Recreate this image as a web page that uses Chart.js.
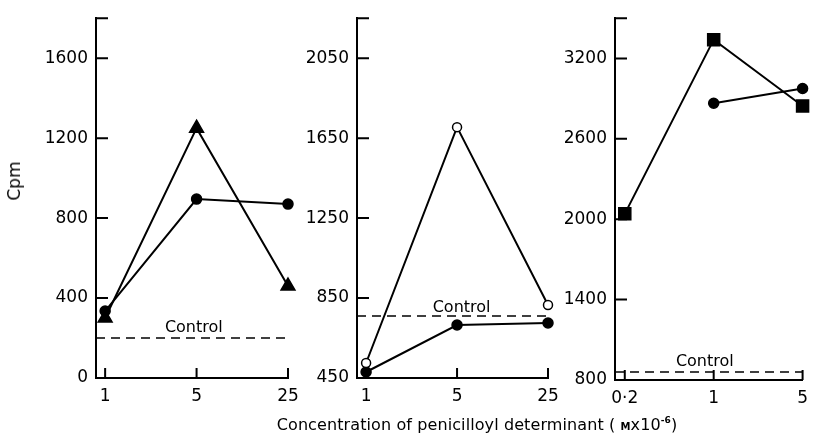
<!DOCTYPE html>
<html>
<head>
<meta charset="utf-8">
<script src="https://cdn.jsdelivr.net/npm/chart.js@4.4.1/dist/chart.umd.min.js"></script>
<style>
  body { margin: 0; background: #fff; }
  #wrap { position: relative; width: 816px; height: 435px; font-family: "DejaVu Sans", sans-serif; color: #000; }
  #wrap canvas { position: absolute; left: 0; top: 0; }
  .lbl { position: absolute; white-space: nowrap; transform: translate(-50%, -50%); }
  #ytitle { left: 14px; top: 181px; font-size: 17px; transform: translate(-50%, -50%) rotate(-90deg); }
  #xtitle { left: 477px; top: 424px; font-size: 16px; letter-spacing: 0.1px; }
  #xtitle .sc { font-size: 10px; font-weight: bold; }
  #xtitle sup { font-size: 9px; font-weight: bold; }
</style>
</head>
<body>
<div id="wrap">
  <canvas id="c1" width="816" height="435"></canvas>
  <canvas id="c2" width="816" height="435"></canvas>
  <canvas id="c3" width="816" height="435"></canvas>
  <div class="lbl" id="ytitle">Cpm</div>
  <div class="lbl" id="xtitle">Concentration of penicilloyl determinant ( <span class="sc">M</span>x10<sup>-6</sup>)</div>
</div>
<script>
// panel 1
const xLabels1 = ['1', '5', '25'];
const triangles1 = [300, 1250, 460];
const circles1 = [335, 895, 870];
const control1 = 200;
const yTicks1 = [0, 400, 800, 1200, 1600];

// panel 2
const xLabels2 = ['1', '5', '25'];
const openCircles2 = [525, 1705, 815];
const circles2 = [480, 715, 725];
const control2 = 760;
const yTicks2 = [450, 850, 1250, 1650, 2050];

// panel 3
const xLabels3 = ['0·2', '1', '5'];
const squares3 = [2040, 3340, 2845];
const circles3 = [null, 2865, 2975];
const control3 = 860;
const yTicks3 = [800, 1400, 2000, 2600, 3200];

const ink = '#000';
const font = { family: '"DejaVu Sans", sans-serif', size: 17 };

// ticks point inward, plus the small stub at the top of the y axis
const inwardTicks = {
  id: 'inwardTicks',
  afterDraw(chart, args, opts) {
    const { ctx, chartArea, scales: { x, y } } = chart;
    ctx.save();
    ctx.strokeStyle = ink;
    ctx.lineWidth = 2;
    ctx.beginPath();
    y.ticks.forEach(t => {
      const py = y.getPixelForValue(t.value);
      ctx.moveTo(chartArea.left, py);
      ctx.lineTo(chartArea.left + 12, py);
    });
    ctx.moveTo(chartArea.left, chartArea.top);
    ctx.lineTo(chartArea.left + 12, chartArea.top);
    x.ticks.forEach(t => {
      const px = x.getPixelForValue(t.value);
      ctx.moveTo(px, chartArea.bottom);
      ctx.lineTo(px, chartArea.bottom - 10);
    });
    ctx.stroke();

    // "Control" caption sitting on the dashed line
    ctx.fillStyle = ink;
    ctx.font = '16px "DejaVu Sans", sans-serif';
    ctx.textAlign = 'center';
    ctx.textBaseline = 'alphabetic';
    ctx.fillText('Control', x.getPixelForValue(opts.labelAt), y.getPixelForValue(opts.control) - opts.lift);
    ctx.restore();
  }
};

function series(values, style, radius, fill) {
  return {
    data: values.map((v, i) => (v == null ? null : { x: i, y: v })).filter(p => p),
    borderColor: ink,
    borderWidth: 2,
    pointStyle: style,
    pointRadius: radius,
    pointBackgroundColor: fill,
    pointBorderColor: ink,
    pointBorderWidth: 1.5,
    clip: false
  };
}

function makePanel(id, p) {
  const controlLine = {
    data: [{ x: p.xMin, y: p.control }, { x: p.xMax, y: p.control }],
    borderColor: ink,
    borderWidth: 1.6,
    borderDash: [9, 6],
    pointRadius: 0,
    clip: false
  };
  new Chart(document.getElementById(id), {
    type: 'line',
    data: { datasets: [controlLine, ...p.datasets] },
    plugins: [inwardTicks],
    options: {
      responsive: false,
      animation: false,
      events: [],
      layout: { padding: { left: p.axisX - 60, right: 816 - p.rightX, top: 15, bottom: 0 } },
      plugins: {
        legend: { display: false },
        tooltip: { enabled: false },
        inwardTicks: { labelAt: p.labelAt, control: p.control, lift: p.lift }
      },
      scales: {
        x: {
          type: 'linear',
          min: p.xMin,
          max: p.xMax,
          afterFit: s => { s.height = 435 - p.bottom; },
          afterBuildTicks: s => { s.ticks = p.labels.map((l, i) => ({ value: i })); },
          ticks: { color: ink, font, padding: 8, maxRotation: 0, callback: v => p.labels[v] },
          grid: { display: true, drawOnChartArea: false, drawTicks: false },
          border: { color: ink, width: 2 }
        },
        y: {
          min: p.yMin,
          max: p.yMax,
          afterFit: s => { s.width = 60; },
          afterBuildTicks: s => { s.ticks = p.yTicks.map(v => ({ value: v })); },
          ticks: { color: ink, font, padding: 8, callback: v => String(v) },
          grid: { display: true, drawOnChartArea: false, drawTicks: false },
          border: { color: ink, width: 2 }
        }
      }
    }
  });
}

makePanel('c1', {
  labels: xLabels1, yTicks: yTicks1, yMin: 0, yMax: 1800, control: control1,
  axisX: 96, rightX: 288, bottom: 378, xMin: -0.1, xMax: 2, labelAt: 0.97, lift: 6,
  datasets: [series(triangles1, 'triangle', 8, ink), series(circles1, 'circle', 5, ink)]
});

makePanel('c2', {
  labels: xLabels2, yTicks: yTicks2, yMin: 450, yMax: 2250, control: control2,
  axisX: 357, rightX: 548, bottom: 378, xMin: -0.1, xMax: 2, labelAt: 1.05, lift: 4,
  datasets: [series(openCircles2, 'circle', 4.5, '#fff'), series(circles2, 'circle', 5, ink)]
});

makePanel('c3', {
  labels: xLabels3, yTicks: yTicks3, yMin: 800, yMax: 3500, control: control3,
  axisX: 615, rightX: 807, bottom: 380, xMin: -0.11, xMax: 2, labelAt: 0.9, lift: 6,
  datasets: [series(squares3, 'rect', 8.5, ink), series(circles3, 'circle', 5, ink)]
});
</script>
</body>
</html>
